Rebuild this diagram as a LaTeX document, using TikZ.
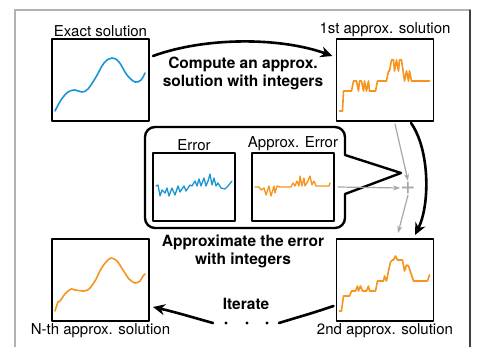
\documentclass[tikz,border=0pt]{standalone}
\usepackage{fontspec}
\setmainfont{TeX Gyre Heros}
\usetikzlibrary{arrows.meta,positioning}
\definecolor{solblue}{HTML}{1B95D3}
\definecolor{solorange}{HTML}{F7941D}
\begin{document}
\begin{tikzpicture}[x=1pt,y=-1pt, line join=round, line cap=round,
    plotbox/.style={draw, line width=1.1pt, minimum width=97pt, minimum height=82pt, inner sep=0pt, outer sep=0pt},
    errbox/.style={plotbox, minimum width=82pt, minimum height=68pt},
    lbl/.style={font=\fontsize{15}{18}\selectfont, inner sep=2pt},
    bold/.style={font=\fontsize{15.5}{18}\selectfont\bfseries, align=center, inner sep=0pt},
    blueline/.style={solblue, line width=1.6pt},
    orangeline/.style={solorange, line width=1.6pt},
    bigarrow/.style={line width=2.6pt, -{Stealth[length=12pt,width=11pt]}},
    grayarrow/.style={gray!70, line width=1.2pt, -{Stealth[length=7pt,width=5pt]}}]
    \useasboundingbox (0,0) rectangle (478,347);
    % frame
    \draw[gray!60, line width=1.2pt] (15,347) -- (15,10) -- (470,10);
    \draw[black!75, line width=1.2pt] (470,10) -- (470,347);

    % solution boxes
    \node[plotbox] (exact) at (100.5,80) {};
    \node[plotbox] (first) at (385,80) {};
    \node[plotbox] (nth) at (100.5,280) {};
    \node[plotbox] (second) at (385,280) {};
    \node[lbl, above=0pt of exact] (exactlbl) {Exact solution};
    \node[lbl, above=0pt of first] (firstlbl) {1st approx. solution};
    \node[lbl, below=0pt of nth] (nthlbl) {N-th approx. solution};
    \node[lbl, below=0pt of second] (secondlbl) {2nd approx. solution};

    \draw[blueline, shift={(exact.north west)}] plot[smooth, tension=0.6] coordinates {
        (3,72) (9,61) (16,53) (23,51) (30,53) (36,50) (44,38) (52,24) (60,19)
        (67,23) (75,36) (83,43) (89,41) (93,34)};
    \draw[orangeline, shift={(first.north west)}] plot coordinates {
        (3,72) (6,72) (7,52) (15,52) (17,42) (20,42) (22,52) (23,42) (25,42) (27,52)
        (28,42) (30,52) (32,42) (33,52) (39,52) (41,42) (50,42) (52,32) (53,32)
        (55,21) (57,21) (58,32) (60,21) (62,32) (63,21) (65,21) (68,42) (70,32)
        (72,42) (73,32) (75,42) (93,42)};
    \draw[orangeline, shift={(second.north west)}] plot coordinates {
        (3,72) (5,72) (7,57) (13,57) (15,52) (19,52) (21,47) (22,52) (24,47) (26,52)
        (30,52) (32,47) (33,52) (39,52) (41,42) (47,42) (48,37) (50,42) (52,32)
        (54,23) (56,21) (57,21) (59,17) (61,21) (66,21) (68,32) (70,26) (72,27)
        (77,42) (91,42) (93,36)};
    \draw[orangeline, shift={(nth.north west)}] plot[smooth, tension=0.5] coordinates {
        (3,72) (6,63) (8,62) (13,55) (19,50) (23,51) (32,52) (37,50) (43,42) (49,30)
        (54,23) (59,19) (65,22) (71,31) (77,40) (83,44) (88,42) (91,37) (93,35)};

    % error callout
    \draw[line width=2.4pt] (245,127) [rounded corners=10pt] -- (345,127) [sharp corners] -- (345,155)
        -- (401,173) -- (345,194) [rounded corners=10pt] -- (345,228) -- (145,228) -- (145,127) -- cycle;
    \node[errbox] (err) at (194,187) {};
    \node[errbox] (apperr) at (293,187) {};
    \node[lbl, above=0pt of err] (errlbl) {Error};
    \node[lbl, above=0pt of apperr] (apperrlbl) {Approx. Error};
    \draw[blueline, line width=1.3pt, shift={(err.north west)}] plot coordinates {
        (3,33) (5,32) (7,43) (9,37) (12,40) (14,35) (16,43) (19,35) (22,42) (25,33)
        (27,39) (31,33) (33,38) (37,32) (39,33) (42,28) (44,33) (46,26) (48,33)
        (51,25) (53,33) (55,28) (57,21) (59,32) (61,25) (63,33) (65,30) (68,35)
        (72,36) (75,33) (79,28)};
    \draw[orangeline, line width=1.3pt, shift={(apperr.north west)}] plot coordinates {
        (3,34) (7,34) (9,37) (12,35) (14,42) (17,33) (19,43) (22,33) (23,40) (25,33)
        (28,34) (39,34) (41,30) (43,33) (45,28) (47,33) (48,23) (50,33) (52,25)
        (53,33) (56,28) (58,23) (60,32) (62,28) (64,33) (77,33) (78,30)};

    % summation
    \node[gray!70, inner sep=0pt, minimum size=14pt, font=\fontsize{26}{26}\selectfont] (plus) at (408,188) {+};
    \draw[grayarrow] ([shift={(4pt,0pt)}]apperr.east) -- (plus.west);
    \draw[grayarrow] ([shift={(10pt,-3pt)}]first.south) -- (plus.north);
    \draw[grayarrow] (plus.south) -- ([shift={(13pt,6pt)}]second.north);

    % steps
    \draw[bigarrow] ([shift={(4pt,-17pt)}]exact.north east) .. controls (205,37) and (280,37) .. ([shift={(-4pt,-17pt)}]first.north west);
    \node[bold] (compute) at (243,73) {Compute an approx.\\solution with integers};
    \draw[bigarrow] ([shift={(26pt,-2pt)}]first.south) .. controls (430,150) and (430,205) .. ([shift={(30pt,4pt)}]second.north);
    \node[bold] (approxerr) at (243,251.5) {Approximate the error\\with integers};
    \node[bold] (iterate) at (246,304) {Iterate};
    \coordinate (dots) at (247,323);
    \foreach \dx in {-21,0,20}
        \fill ([xshift=\dx pt]dots) circle (1.6pt);
    \draw[line width=2.6pt] ([shift={(-3pt,-26pt)}]second.west) .. controls (310,314) and (295,318) .. ([xshift=32pt]dots);
    \draw[bigarrow] ([xshift=-34pt]dots) .. controls (195,318) and (175,312) .. ([shift={(4pt,-27pt)}]nth.east);
\end{tikzpicture}
\end{document}
